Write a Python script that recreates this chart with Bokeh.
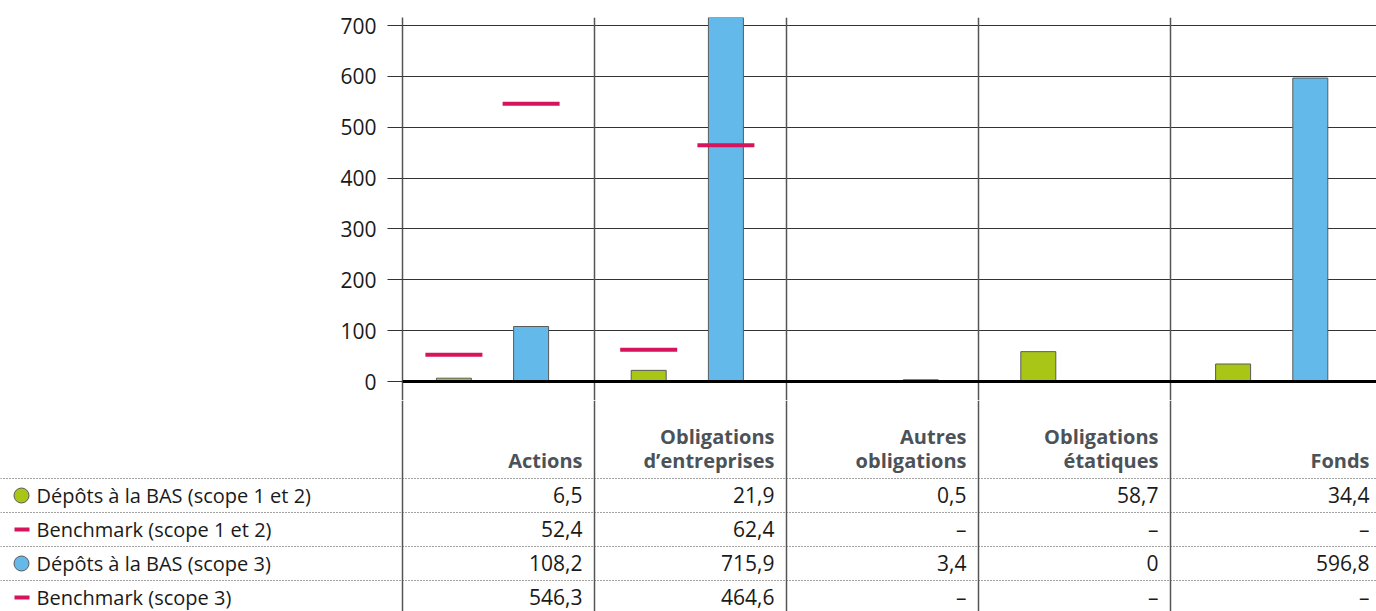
from bokeh.plotting import figure
from bokeh.models import Range1d, FixedTicker, Span
from bokeh.core.properties import value
from bokeh.embed import file_html
from bokeh.resources import INLINE

# ---------------- data ----------------
categories = ["Actions", "Obligations\nd\u2019entreprises", "Autres\nobligations",
              "Obligations\n\u00e9tatiques", "Fonds"]
depots_scope12 = [6.5, 21.9, 0.5, 58.7, 34.4]
bench_scope12 = [52.4, 62.4, None, None, None]
depots_scope3 = [108.2, 715.9, 3.4, 0, 596.8]
bench_scope3 = [546.3, 464.6, None, None, None]
series_labels = ["D\u00e9p\u00f4ts \u00e0 la BAS (scope 1 et 2)", "Benchmark (scope 1 et 2)",
                 "D\u00e9p\u00f4ts \u00e0 la BAS (scope 3)", "Benchmark (scope 3)"]
y_ticks = [0, 100, 200, 300, 400, 500, 600, 700]

# ---------------- style / layout ----------------
GREEN = "#a9c515"
BLUE = "#63b9e9"
RED = "#d5145b"
OUTLINE = "#5a5a5a"
FONT = "Open Sans"
W, H = 1376, 611
FRAME_L = 402
TOP_H = 400
TOP_PAD = 17
ZERO_PX = 381
N = len(categories)
UNIT = (W - FRAME_L) / N          # px per category unit
SEP = 192 / UNIT                  # column divider pitch (in units)
G_OFF, B_OFF = 51.4 / UNIT, 128.6 / UNIT
BAR_W = 35 / UNIT
BENCH_W = 57 / UNIT


def px2x(px):
    return (px - FRAME_L) / UNIT


y_top = max(depots_scope3)
scale = (ZERO_PX - TOP_PAD) / y_top
y_bottom = -(TOP_H - ZERO_PX) / scale

# ---------------- chart ----------------
p = figure(width=W, height=TOP_H, output_backend="svg", toolbar_location=None,
           x_range=Range1d(0, N), y_range=Range1d(y_bottom, y_top),
           x_axis_location=None, min_border_left=FRAME_L, min_border_top=TOP_PAD,
           min_border_right=0, min_border_bottom=0)
p.outline_line_color = None
p.background_fill_color = "white"
p.border_fill_color = "white"
p.xgrid.visible = False
p.ygrid.ticker = FixedTicker(ticks=[t for t in y_ticks if t != 0])
p.ygrid.grid_line_color = "#333333"
p.ygrid.grid_line_width = 1
ax = p.yaxis[0]
ax.ticker = FixedTicker(ticks=y_ticks)
ax.minor_tick_line_color = None
ax.major_tick_in = 0
ax.major_tick_out = 15
ax.major_tick_line_color = "#333333"
ax.axis_line_color = "#555555"
ax.axis_line_width = 1.5
ax.major_label_text_font = FONT
ax.major_label_text_font_size = "21px"
ax.major_label_text_color = "#1a1a1a"
ax.major_label_standoff = 11

for k in range(1, N):
    p.add_layout(Span(location=k * SEP, dimension="height", line_color="#555555",
                      line_width=1.5, level="underlay"))

xs = list(range(N))
p.vbar(x=[k + G_OFF for k in xs], top=depots_scope12, width=BAR_W,
       fill_color=GREEN, line_color=OUTLINE, line_width=1)
p.vbar(x=[k + B_OFF for k in xs], top=depots_scope3, width=BAR_W,
       fill_color=BLUE, line_color=OUTLINE, line_width=1)

for vals, off in ((bench_scope12, G_OFF), (bench_scope3, B_OFF)):
    bx = [k + off for k, v in zip(xs, vals) if v is not None]
    bv = [v for v in vals if v is not None]
    p.segment(x0=[x - BENCH_W / 2 for x in bx], x1=[x + BENCH_W / 2 for x in bx],
              y0=bv, y1=bv, line_color=RED, line_width=4, line_cap="butt")

p.add_layout(Span(location=0, dimension="width", line_color="black", line_width=3))

# ---------------- table ----------------
BOT_H = H - TOP_H
t = figure(width=W, height=BOT_H, output_backend="svg", toolbar_location=None,
           x_range=Range1d(px2x(0), px2x(W)), y_range=Range1d(BOT_H, 0),
           x_axis_location=None, y_axis_location=None,
           min_border_left=0, min_border_right=0, min_border_top=0, min_border_bottom=0)
t.outline_line_color = None
t.grid.visible = False
t.background_fill_color = "white"
t.border_fill_color = "white"


def gy(py):
    return py - TOP_H


# column dividers
for k in range(N):
    t.segment(x0=[k * SEP], x1=[k * SEP], y0=[0], y1=[BOT_H],
              line_color="#555555", line_width=1.5)

# dotted row lines
ROW0 = 478
ROW_H = 34
for i in range(len(series_labels)):
    yy = gy(ROW0 + ROW_H * i)
    t.segment(x0=[px2x(0)], x1=[px2x(W)], y0=[yy], y1=[yy],
              line_color="#444444", line_width=1, line_dash="1 2")

# right edges of columns' text
right_edges = [((k + 1) * SEP - 12 / UNIT) if k < N - 1 else px2x(W - 7) for k in range(N)]

# headers
HEAD_BASE = 459.5
for k, cat in enumerate(categories):
    lines = cat.split("\n")
    for j, ln in enumerate(reversed(lines)):
        t.text(x=[right_edges[k]], y=[gy(HEAD_BASE - 24 * j)], text=[ln],
               text_align="right", text_baseline="alphabetic",
               text_font=value(FONT), text_font_style="bold",
               text_font_size="20px", text_color="#4b5258")


def fmt(v):
    if v is None:
        return "\u2013"
    if v == 0:
        return "0"
    return f"{v:.1f}".replace(".", ",")


rows = [depots_scope12, bench_scope12, depots_scope3, bench_scope3]
BASE0 = 494.5
for i, (lab, vals) in enumerate(zip(series_labels, rows)):
    base = gy(BASE0 + ROW_H * i)
    center = gy(ROW0 + ROW_H * i + ROW_H / 2)
    t.text(x=[px2x(36)], y=[base], text=[lab], text_align="left",
           text_baseline="alphabetic", text_font=value(FONT),
           text_font_size="20px", text_color="#1a1a1a")
    t.text(x=right_edges, y=[base] * N, text=[fmt(v) for v in vals],
           text_align="right", text_baseline="alphabetic", text_font=value(FONT),
           text_font_size="21px", text_color="#1a1a1a")
    if i in (0, 2):
        t.scatter(x=[px2x(21)], y=[center], size=15, marker="circle",
                  fill_color=GREEN if i == 0 else BLUE, line_color=OUTLINE, line_width=1)
    else:
        t.segment(x0=[px2x(14)], x1=[px2x(29)], y0=[center], y1=[center],
                  line_color=RED, line_width=4, line_cap="butt")

open("out.html", "w").write(file_html([p, t], INLINE))
